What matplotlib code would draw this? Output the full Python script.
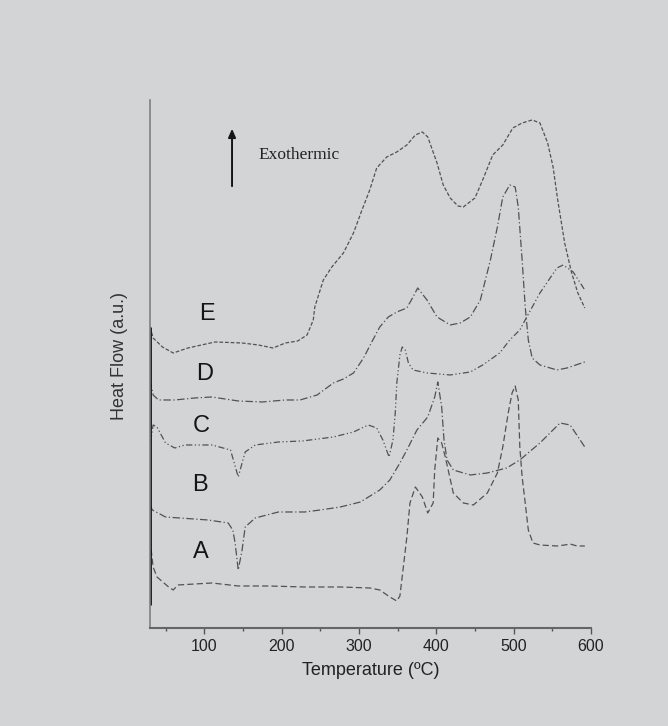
import matplotlib
matplotlib.use("Agg")
import matplotlib.pyplot as plt
from matplotlib.ticker import MultipleLocator

# DSC curves: temperature (ºC) and heat flow (a.u.)
temp_a = [30, 34, 39, 54, 60, 66, 110, 144, 183, 230, 276, 314, 327, 340, 349, 353, 357, 362, 366, 373,
          382, 389, 396, 398, 402, 407, 411, 414, 422, 435, 448, 466, 479, 486, 493, 498, 502, 506, 508, 511,
          515, 519, 525, 534, 556, 566, 573, 582, 592]
flow_a = [8.8, 6.1, 5.1, 4.1, 3.8, 4.3, 4.5, 4.2, 4.2, 4.1, 4.1, 4.0, 3.8, 3.1, 2.7, 3.2, 5.8, 9.1, 12.5, 14.1,
          13.1, 11.5, 12.5, 15.8, 19.0, 18.5, 17.3, 16.3, 13.5, 12.5, 12.3, 13.5, 15.5, 18.1, 21.5, 23.5, 24.2,
          22.8, 18.1, 15.1, 12.5, 9.8, 8.5, 8.3, 8.2, 8.3, 8.4, 8.2, 8.2]

temp_b = [30, 33, 50, 105, 131, 137, 140, 144, 149, 153, 166, 196, 230, 250, 276, 302, 327, 340, 353, 362,
          375, 389, 398, 402, 407, 410, 414, 422, 444, 466, 491, 508, 534, 560, 573, 592]
flow_b = [12.3, 11.8, 11.1, 10.8, 10.5, 9.8, 8.5, 5.8, 7.8, 10.1, 11.0, 11.6, 11.6, 11.8, 12.1, 12.6, 13.8,
          14.8, 16.5, 17.8, 19.8, 21.1, 23.1, 24.6, 22.1, 18.8, 16.8, 15.8, 15.3, 15.5, 16.0, 16.8, 18.5, 20.5,
          20.3, 18.1]

temp_c = [30, 34, 39, 50, 62, 75, 110, 134, 137, 144, 149, 153, 166, 196, 227, 267, 293, 312, 323, 331,
          339, 344, 347, 349, 353, 356, 360, 364, 370, 388, 418, 444, 460, 482, 495, 508, 517, 534, 556, 564,
          577, 592]
flow_c = [18.3, 20.3, 20.1, 18.5, 18.0, 18.3, 18.3, 17.8, 17.0, 15.1, 16.5, 17.6, 18.3, 18.6, 18.7, 19.1,
          19.6, 20.3, 20.0, 18.8, 17.1, 18.8, 21.5, 24.5, 27.3, 28.1, 27.8, 26.5, 25.8, 25.5, 25.3, 25.6, 26.3,
          27.5, 28.8, 29.8, 31.1, 33.5, 36.0, 36.3, 35.6, 33.8]

temp_d = [30, 34, 41, 62, 88, 110, 144, 175, 205, 224, 246, 267, 280, 293, 306, 318, 327, 338, 349, 362,
          370, 376, 388, 401, 418, 431, 444, 457, 470, 479, 486, 495, 502, 506, 511, 515, 519, 524, 534, 556,
          569, 592]
flow_d = [24.8, 23.3, 22.8, 22.8, 23.0, 23.1, 22.7, 22.6, 22.8, 22.8, 23.3, 24.5, 24.9, 25.5, 27.0, 28.8,
          30.1, 31.1, 31.6, 32.0, 33.1, 34.0, 32.8, 31.1, 30.3, 30.5, 31.1, 32.8, 36.8, 40.1, 43.1, 44.3, 44.1,
          42.1, 36.8, 32.1, 28.8, 27.0, 26.3, 25.8, 26.0, 26.6]

temp_e = [30, 34, 46, 60, 79, 114, 149, 170, 189, 205, 221, 233, 241, 243, 254, 265, 280, 293, 304, 314,
          323, 336, 349, 362, 373, 382, 389, 401, 409, 418, 428, 435, 450, 460, 473, 486, 499, 511, 524, 534,
          544, 551, 557, 566, 575, 583, 592]
flow_e = [30.1, 29.0, 28.1, 27.5, 28.0, 28.6, 28.5, 28.3, 28.0, 28.5, 28.7, 29.3, 30.8, 32.1, 34.8, 36.1,
          37.5, 39.5, 41.8, 43.8, 46.0, 47.1, 47.6, 48.3, 49.3, 49.6, 49.1, 46.5, 44.3, 43.0, 42.2, 42.1, 43.0,
          44.8, 47.3, 48.3, 50.0, 50.5, 50.8, 50.5, 48.5, 46.1, 42.8, 38.5, 35.5, 33.5, 32.0]

curve_names = ["A", "B", "C", "D", "E"]
onset_flow = [2.3, 30.1]   # dark stroke where the runs start at 30 ºC
x_ticks = [100, 200, 300, 400, 500, 600]

bg = "#d3d4d6"
line_col = "#525252"

fig = plt.figure(figsize=(6.68, 7.26), dpi=100, facecolor=bg)
ax = fig.add_axes([0.2246, 0.135, 0.6601, 0.7273], facecolor=bg)

series = [(temp_a, flow_a), (temp_b, flow_b), (temp_c, flow_c), (temp_d, flow_d), (temp_e, flow_e)]
styles = [(0, (5, 2.5)), (0, (6, 2, 1, 2)), (0, (5, 2, 1, 2, 1, 2)), (0, (6, 2, 1, 2)), (0, (3, 1.5))]
for (t, f), ls in zip(series, styles):
    ax.plot(t, f, color=line_col, lw=0.9, ls=ls)

ax.vlines(temp_a[0], onset_flow[0], onset_flow[1], color="#111111", lw=2)

# curve labels
label_pos = [(96, 7.6), (95, 14.3), (96, 20.2), (101, 25.4), (104, 31.4)]
for name, (lx, ly) in zip(curve_names, label_pos):
    ax.text(lx, ly, name, fontsize=17, family="Liberation Sans", color="#151515",
            ha="center", va="center")

ax.annotate("", xy=(136, 50.2), xytext=(136, 43.9),
            arrowprops=dict(arrowstyle="-|>,head_length=0.5,head_width=0.22", color="#151515", lw=1.4))
ax.text(170, 47.3, "Exothermic", fontsize=12.5, family="Liberation Serif", color="#222222",
        ha="left", va="center")

ax.set_xlim(30, 600)
ax.set_ylim(0, 52.8)
ax.set_xticks(x_ticks)
ax.xaxis.set_minor_locator(MultipleLocator(50))
ax.set_yticks([])
ax.tick_params(axis="x", which="major", length=4, width=1, color="#555555", pad=4,
               labelsize=11.5, labelcolor="#222222")
ax.tick_params(axis="x", which="minor", length=2, width=1, color="#555555")
for lab in ax.get_xticklabels():
    lab.set_family("Liberation Sans")

for side in ["top", "right"]:
    ax.spines[side].set_visible(False)
ax.spines["bottom"].set_color("#666666")
ax.spines["bottom"].set_linewidth(1.5)
ax.spines["left"].set_color("#808080")
ax.spines["left"].set_linewidth(1.2)

ax.set_xlabel("Temperature (ºC)", fontsize=13, family="Liberation Sans", color="#222222", labelpad=6)
ax.set_ylabel("Heat Flow (a.u.)", fontsize=13, family="Liberation Sans", color="#333333")
ax.yaxis.set_label_coords(-0.05, 0.515)

fig.savefig("out.png", dpi=100, facecolor=bg)
